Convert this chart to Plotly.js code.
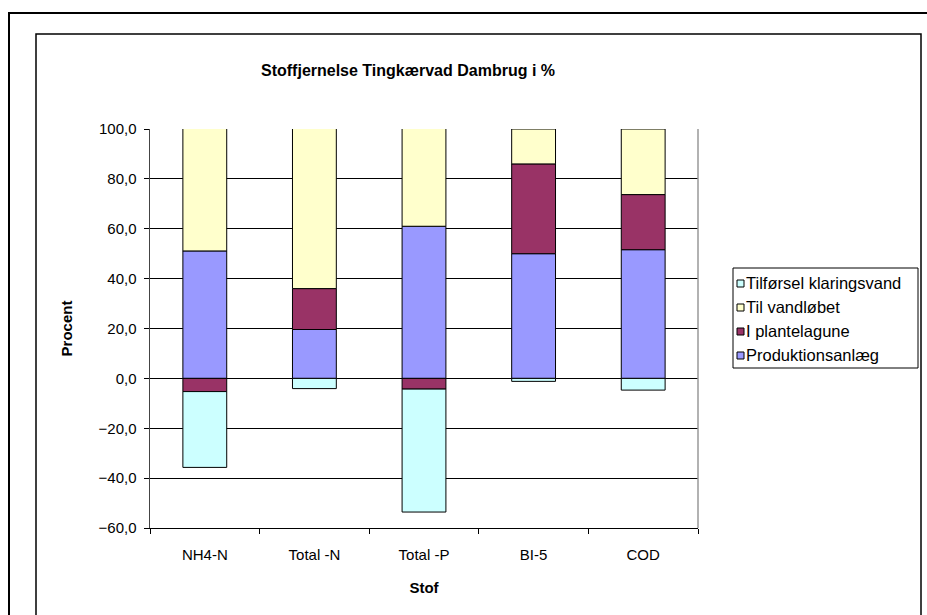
<!DOCTYPE html>
<html>
<head>
<meta charset="utf-8">
<script src="https://cdn.plot.ly/plotly-3.0.1.min.js"></script>
<style>html,body{margin:0;padding:0;background:#fff;}#chart{width:927px;height:615px;}</style>
</head>
<body>
<div id="chart"></div>
<script>
const categories = ["NH4-N", "Total -N", "Total -P", "BI-5", "COD"];
const produktionsanlaeg = [51.1, 19.6, 61.0, 50.0, 51.6];
const iPlantelagune = [-5.3, 16.4, -4.3, 36.0, 22.1];
const tilVandloebet = [50.2, 64.4, 40.3, 14.0, 26.3];
const tilfoerselKlaringsvand = [-30.4, -4.1, -49.3, -1.2, -4.7];
const yTicks = [-60, -40, -20, 0, 20, 40, 60, 80, 100];

const seriesNames = ['Produktionsanlæg', 'I plantelagune', 'Til vandløbet', 'Tilførsel klaringsvand'];
const seriesColors = ['#9999FF', '#993366', '#FFFFCC', '#CCFFFF'];
const seriesValues = [produktionsanlaeg, iPlantelagune, tilVandloebet, tilfoerselKlaringsvand];

const L = 150, R = 698, T = 129, B = 528;
const W = R - L, H = B - T;
const px = x => (x - L) / W;
const py = y => (B - y) / H;

const data = seriesNames.map((n, i) => ({
  type: 'bar', name: n, x: categories, y: seriesValues[i],
  marker: {color: seriesColors[i], line: {color: '#000', width: 1}},
  cliponaxis: false, hoverinfo: 'skip', showlegend: false
}));

const font = 'Arial, "Liberation Sans", sans-serif';
const FS = 15;

const shapes = [
  {type: 'line', xref: 'paper', yref: 'paper', x0: 1, x1: 1, y0: 0, y1: 1,
   line: {color: '#999', width: 1.5}, layer: 'above'},
  {type: 'rect', xref: 'paper', yref: 'paper', x0: px(9), x1: px(960), y0: py(13), y1: py(660),
   line: {color: '#000', width: 2}, fillcolor: 'rgba(0,0,0,0)'},
  {type: 'rect', xref: 'paper', yref: 'paper', x0: px(36), x1: px(921), y0: py(34), y1: py(660),
   line: {color: '#000', width: 1.5}, fillcolor: 'rgba(0,0,0,0)'},
  {type: 'rect', xref: 'paper', yref: 'paper', x0: px(733), x1: px(918), y0: py(268), y1: py(368),
   line: {color: '#000', width: 1}, fillcolor: '#fff'}
];
const annotations = [];
const legendOrder = [3, 2, 1, 0];
legendOrder.forEach((si, k) => {
  const cy = 283 + k * 24;
  shapes.push({type: 'rect', xref: 'paper', yref: 'paper',
    x0: px(737), x1: px(744), y0: py(cy + 4), y1: py(cy - 3),
    line: {color: '#000', width: 1}, fillcolor: seriesColors[si]});
  annotations.push({xref: 'paper', yref: 'paper', x: px(744), y: py(cy),
    xanchor: 'left', yanchor: 'middle', showarrow: false, text: seriesNames[si],
    font: {family: font, size: 16.5, color: '#000'}});
});

const layout = {
  width: 927, height: 615,
  margin: {l: L, r: 927 - R, t: T, b: 615 - B, pad: 0},
  paper_bgcolor: '#fff', plot_bgcolor: '#fff',
  separators: ',.',
  barmode: 'relative',
  bargap: 0.6,
  font: {family: font, size: FS, color: '#000'},
  showlegend: false,
  title: {
    text: '<b>Stoffjernelse Tingkærvad Dambrug i %</b>',
    font: {family: font, size: 16, color: '#000'},
    xref: 'container', yref: 'container',
    x: 408 / 927, xanchor: 'center',
    y: 1 - 70 / 615, yanchor: 'middle'
  },
  xaxis: {
    type: 'category',
    showgrid: false, zeroline: false,
    showline: true, linecolor: '#000', linewidth: 1,
    ticks: 'outside', ticklen: 5, tickcolor: '#000', tickson: 'boundaries',
    ticklabelstandoff: 13,
    tickfont: {family: font, size: FS, color: '#000'},
    title: {text: '<b>Stof</b>', font: {family: font, size: FS, color: '#000'}, standoff: 20},
    fixedrange: true
  },
  yaxis: {
    range: [-60, 100],
    tickvals: yTicks, tickformat: '.1f',
    showgrid: true, gridcolor: '#000', gridwidth: 1,
    zeroline: false,
    showline: true, linecolor: '#444', linewidth: 1.5,
    ticks: 'outside', ticklen: 5, tickcolor: '#000',
    ticklabelstandoff: 4,
    tickfont: {family: font, size: FS, color: '#000'},
    title: {text: '<b>Procent</b>', font: {family: font, size: FS, color: '#000'}, standoff: 22},
    fixedrange: true
  },
  shapes: shapes,
  annotations: annotations
};

Plotly.newPlot('chart', data, layout, {displayModeBar: false, staticPlot: true});
</script>
</body>
</html>
